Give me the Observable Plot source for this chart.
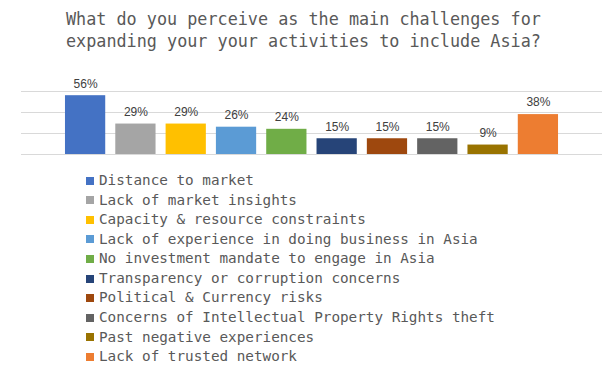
<!DOCTYPE html>
<html>
<head>
<meta charset="utf-8">
<script src="https://cdn.jsdelivr.net/npm/d3@7"></script>
<script src="https://cdn.jsdelivr.net/npm/@observablehq/plot@0.6"></script>
<style>
  html, body { margin: 0; padding: 0; background: #fff; }
  #wrap { position: relative; width: 610px; height: 371px; overflow: hidden; }
  #title { position: absolute; left: 66px; top: 8px; font-family: "DejaVu Sans Mono", monospace;
           font-size: 16.8px; line-height: 22px; color: #595959; white-space: pre; }
  #chart { position: absolute; left: 0; top: 70px; }
  #legend { position: absolute; left: 86px; top: 171px; font-family: "DejaVu Sans Mono", monospace;
            font-size: 14.3px; line-height: 19.56px; color: #595959; }
  .row { display: flex; align-items: center; white-space: pre; }
  .sw { width: 8px; height: 8px; margin-right: 5px; flex: none; }
</style>
</head>
<body>
<div id="wrap">
  <div id="title"></div>
  <div id="chart"></div>
  <div id="legend"></div>
</div>
<script>
const titleLines = [
  "What do you perceive as the main challenges for",
  "expanding your your activities to include Asia?"
];
const categories = [
  "Distance to market",
  "Lack of market insights",
  "Capacity & resource constraints",
  "Lack of experience in doing business in Asia",
  "No investment mandate to engage in Asia",
  "Transparency or corruption concerns",
  "Political & Currency risks",
  "Concerns of Intellectual Property Rights theft",
  "Past negative experiences",
  "Lack of trusted network"
];
const values = [56, 29, 29, 26, 24, 15, 15, 15, 9, 38];
const colors = ["#4472C4", "#A5A5A5", "#FFC000", "#5B9BD5", "#70AD47",
                "#264478", "#9E480E", "#636363", "#997300", "#ED7D31"];
const gridTicks = [0, 20, 40, 60];

const data = categories.map((c, i) => ({category: c, value: values[i]}));

document.getElementById("title").textContent = titleLines.join("\n");

const plot = Plot.plot({
  width: 610,
  height: 96,
  marginTop: 21,
  marginBottom: 12,
  marginLeft: 21,
  marginRight: 8,
  x: {type: "band", domain: categories, paddingInner: 0.2, paddingOuter: 0.874, round: false, axis: null},
  y: {domain: [0, 60], axis: null},
  color: {domain: categories, range: colors},
  style: {background: "transparent", overflow: "visible"},
  marks: [
    Plot.ruleY(gridTicks, {stroke: "#d9d9d9", strokeWidth: 1, strokeOpacity: 1}),
    Plot.barY(data, {x: "category", y: "value", fill: "category"}),
    Plot.text(data, {x: "category", y: "value", text: d => d.value + "%", dy: -12,
      fill: "#404040", fontSize: 12, fontFamily: "Liberation Sans, Arial, sans-serif"})
  ]
});
document.getElementById("chart").appendChild(plot);

const legend = document.getElementById("legend");
categories.forEach((c, i) => {
  const row = document.createElement("div");
  row.className = "row";
  const sw = document.createElement("span");
  sw.className = "sw";
  sw.style.background = colors[i];
  const t = document.createElement("span");
  t.textContent = c;
  row.appendChild(sw);
  row.appendChild(t);
  legend.appendChild(row);
});
</script>
</body>
</html>
